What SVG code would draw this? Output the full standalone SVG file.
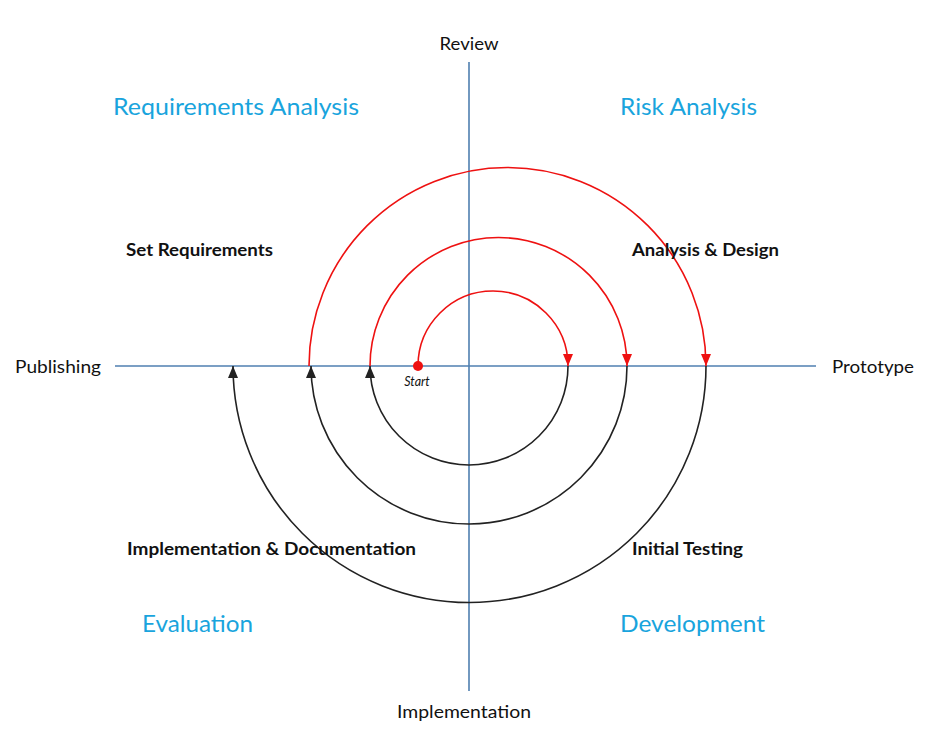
<svg xmlns="http://www.w3.org/2000/svg" width="936" height="743" viewBox="0 0 936 743">
<defs>
<style>
.axis{stroke:#4f7fb0;stroke-width:1.6;fill:none}
.red{stroke:#ee1111;stroke-width:1.6;fill:none}
.blk{stroke:#222;stroke-width:1.6;fill:none}
.lbl{font-family:Lato,"Open Sans",sans-serif;font-size:17.5px;fill:#111}
.phase{font-family:Lato,"Open Sans",sans-serif;font-size:23px;fill:#19a4dd}
.task{font-family:Lato,"Open Sans",sans-serif;font-size:16.5px;font-weight:bold;fill:#111}
</style>
<marker id="ar" viewBox="0 0 12 10" refX="12" refY="5" markerWidth="12" markerHeight="10" markerUnits="userSpaceOnUse" orient="auto"><path d="M0,0 L12,5 L0,10 Z" fill="#ee1111"/></marker>
<marker id="ab" viewBox="0 0 12 10" refX="12" refY="5" markerWidth="12" markerHeight="10" markerUnits="userSpaceOnUse" orient="auto"><path d="M0,0 L12,5 L0,10 Z" fill="#222"/></marker>
</defs>
<rect width="936" height="743" fill="#fff"/>
<g id="axes">
<line class="axis" x1="469" y1="62" x2="469" y2="691"/>
<line class="axis" x1="115" y1="366" x2="816" y2="366"/>
</g>
<g id="connectors">
<path class="red" d="M418,366 A75,75 0 0 1 568,366" marker-end="url(#ar)"/>
<path class="blk" d="M568,366 A99,99 0 0 1 370,366" marker-end="url(#ab)"/>
<path class="red" d="M370,366 A128.5,128.5 0 0 1 627,366" marker-end="url(#ar)"/>
<path class="blk" d="M627,366 A158,158 0 0 1 311,366" marker-end="url(#ab)"/>
<path class="red" d="M309,366 A198.5,198.5 0 0 1 706,366" marker-end="url(#ar)"/>
<path class="blk" d="M706,366 A236.5,236.5 0 0 1 233,366" marker-end="url(#ab)"/>
</g>
<g id="start">
<circle cx="418" cy="366" r="5" fill="#ee1111"/>
<text x="417" y="386" text-anchor="middle" font-family="Lato,'Open Sans',sans-serif" font-size="12.5" font-style="italic" fill="#111">Start</text>
</g>
<g id="review"><text class="lbl" x="469" y="50" text-anchor="middle" textLength="59" lengthAdjust="spacingAndGlyphs">Review</text></g>
<g id="implementation"><text class="lbl" x="464" y="718" text-anchor="middle" textLength="134" lengthAdjust="spacingAndGlyphs">Implementation</text></g>
<g id="publishing"><text class="lbl" x="15" y="373" textLength="86" lengthAdjust="spacingAndGlyphs">Publishing</text></g>
<g id="prototype"><text class="lbl" x="832" y="373" textLength="82" lengthAdjust="spacingAndGlyphs">Prototype</text></g>
<g id="req-analysis"><text class="phase" x="113" y="115" textLength="246" lengthAdjust="spacingAndGlyphs">Requirements Analysis</text></g>
<g id="risk-analysis"><text class="phase" x="620" y="115" textLength="137" lengthAdjust="spacingAndGlyphs">Risk Analysis</text></g>
<g id="evaluation"><text class="phase" x="142" y="632" textLength="111" lengthAdjust="spacingAndGlyphs">Evaluation</text></g>
<g id="development"><text class="phase" x="620" y="632" textLength="145" lengthAdjust="spacingAndGlyphs">Development</text></g>
<g id="set-req"><text class="task" x="126" y="256" textLength="147" lengthAdjust="spacingAndGlyphs">Set Requirements</text></g>
<g id="analysis-design"><text class="task" x="632" y="256" textLength="147" lengthAdjust="spacingAndGlyphs">Analysis &amp; Design</text></g>
<g id="impl-doc"><text class="task" x="127" y="555" textLength="289" lengthAdjust="spacingAndGlyphs">Implementation &amp; Documentation</text></g>
<g id="initial-testing"><text class="task" x="632" y="555" textLength="111" lengthAdjust="spacingAndGlyphs">Initial Testing</text></g>
</svg>
